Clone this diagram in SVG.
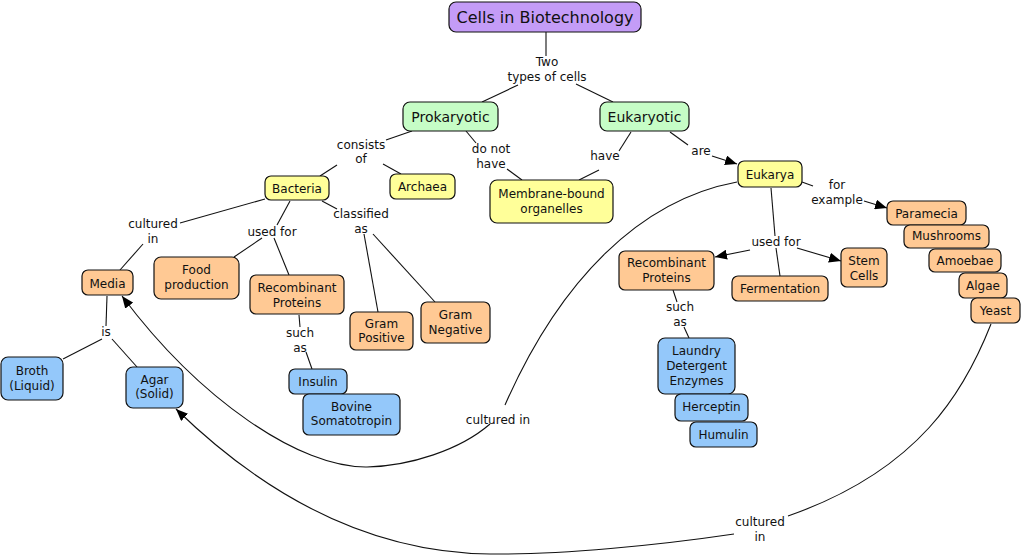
<svg xmlns="http://www.w3.org/2000/svg" width="1023" height="557" viewBox="0 0 1023 557">
<defs>
<style>
.n rect{stroke:#111;stroke-width:1.2}
.pu rect{fill:#C49CF7}
.gr rect{fill:#C6FDC6}
.ye rect{fill:#FFFF99}
.or rect{fill:#FFC994}
.bl rect{fill:#94C8FA}
text{font-family:"DejaVu Sans",Verdana,sans-serif;font-size:12px;fill:#111;text-anchor:middle}
.t16{font-size:16px}
.t14{font-size:14px}
#connectors path{fill:none;stroke:#111;stroke-width:1.1}
</style>
<marker id="ah" viewBox="0 0 12 10" refX="12" refY="5" markerWidth="12" markerHeight="10" markerUnits="userSpaceOnUse" orient="auto">
<path d="M0,0 L12,5 L0,10 Z" fill="#000"/>
</marker>
</defs>
<rect width="1023" height="557" fill="#fff"/>

<g id="connectors">
<path d="M546,32 L546,56"/>
<path d="M518,85 L482,102"/>
<path d="M576,84 L613,102"/>
<path d="M412,131 L386,140"/>
<path d="M337,165 L320,176"/>
<path d="M383,164 L401,174"/>
<path d="M466,131 L476,143"/>
<path d="M507,169 L522,180"/>
<path d="M631,132 L619,151"/>
<path d="M599,170 L579,180"/>
<path d="M670,132 L688,145"/>
<path d="M712,156 L737,164" marker-end="url(#ah)"/>
<path d="M802,182 L813,186"/>
<path d="M864,201 L887,208" marker-end="url(#ah)"/>
<path d="M771,188 L775,236"/>
<path d="M776,248 L780,276"/>
<path d="M750,250 L715,257" marker-end="url(#ah)"/>
<path d="M797,248 L841,261" marker-end="url(#ah)"/>
<path d="M673,290 L677,302"/>
<path d="M684,327 L689,338"/>
<path d="M991,324 C965,390 920,470 788,516"/>
<path d="M734,534 C660,545 560,555 490,554 C400,553 290,520 176,409" marker-end="url(#ah)"/>
<path d="M737,182 C640,200 560,280 505,405"/>
<path d="M490,424 C460,450 410,466 367,467 C300,468 200,400 122,296" marker-end="url(#ah)"/>
<path d="M265,199 L180,223"/>
<path d="M143,244 L120,270"/>
<path d="M290,201 L277,225"/>
<path d="M262,238 L234,257"/>
<path d="M274,238 L289,275"/>
<path d="M322,201 L337,209"/>
<path d="M364,234 L378,312"/>
<path d="M373,234 L435,302"/>
<path d="M299,315 L300,327"/>
<path d="M306,352 L312,369"/>
<path d="M107,296 L106,326"/>
<path d="M102,339 L63,359"/>
<path d="M112,339 L137,367"/>
<text x="547" y="66">Two</text>
<text x="547" y="80.5">types of cells</text>
<text x="361" y="148.5">consists</text>
<text x="361" y="162.5">of</text>
<text x="491" y="153">do not</text>
<text x="491" y="167.5">have</text>
<text x="605" y="160">have</text>
<text x="701" y="155">are</text>
<text x="837" y="189">for</text>
<text x="837" y="204">example</text>
<text x="776" y="246">used for</text>
<text x="680" y="311">such</text>
<text x="680" y="326">as</text>
<text x="760" y="526">cultured</text>
<text x="760" y="540.5">in</text>
<text x="498" y="423.5">cultured in</text>
<text x="153" y="227.5">cultured</text>
<text x="153" y="242.5">in</text>
<text x="272" y="235.5">used for</text>
<text x="361" y="218">classified</text>
<text x="361" y="233">as</text>
<text x="300" y="336.5">such</text>
<text x="300" y="351.5">as</text>
<text x="106" y="336">is</text>
</g>

<g id="cells-in-biotechnology" class="n pu"><rect x="449" y="2" width="192" height="30" rx="7"/><text class="t16" x="545" y="23">Cells in Biotechnology</text></g>
<g id="prokaryotic" class="n gr"><rect x="403" y="102" width="95" height="29" rx="7"/><text class="t14" x="450.5" y="121.5">Prokaryotic</text></g>
<g id="eukaryotic" class="n gr"><rect x="600" y="102" width="89" height="29" rx="7"/><text class="t14" x="644.5" y="121.5">Eukaryotic</text></g>
<g id="bacteria" class="n ye"><rect x="265" y="176" width="64" height="24" rx="6"/><text x="297" y="192.5">Bacteria</text></g>
<g id="archaea" class="n ye"><rect x="390" y="174" width="65" height="25" rx="6"/><text x="422.5" y="191">Archaea</text></g>
<g id="membrane-bound-organelles" class="n ye"><rect x="490" y="180" width="123" height="43" rx="7"/><text x="551.5" y="197.5">Membrane-bound</text><text x="551.5" y="212.5">organelles</text></g>
<g id="eukarya" class="n ye"><rect x="738" y="161" width="64" height="26" rx="6"/><text x="770" y="178.5">Eukarya</text></g>
<g id="paramecia" class="n or"><rect x="887" y="201" width="79" height="24" rx="6"/><text x="926.5" y="217.5">Paramecia</text></g>
<g id="mushrooms" class="n or"><rect x="904" y="225" width="85" height="23" rx="6"/><text x="946.5" y="240">Mushrooms</text></g>
<g id="amoebae" class="n or"><rect x="929" y="249" width="72" height="23" rx="6"/><text x="965" y="265">Amoebae</text></g>
<g id="algae" class="n or"><rect x="959" y="273" width="48" height="25" rx="6"/><text x="983" y="289.5">Algae</text></g>
<g id="yeast" class="n or"><rect x="971" y="298" width="49" height="25" rx="6"/><text x="995.5" y="315">Yeast</text></g>
<g id="stem-cells" class="n or"><rect x="841" y="248" width="46" height="39" rx="6"/><text x="864" y="265">Stem</text><text x="864" y="279.5">Cells</text></g>
<g id="recombinant-proteins-eukarya" class="n or"><rect x="619" y="251" width="95" height="39" rx="6"/><text x="666.5" y="267">Recombinant</text><text x="666.5" y="281.5">Proteins</text></g>
<g id="fermentation" class="n or"><rect x="732" y="276" width="96" height="25" rx="6"/><text x="780" y="292.5">Fermentation</text></g>
<g id="laundry-detergent-enzymes" class="n bl"><rect x="658" y="338" width="77" height="56" rx="7"/><text x="696.5" y="355">Laundry</text><text x="696.5" y="370">Detergent</text><text x="696.5" y="384.5">Enzymes</text></g>
<g id="herceptin" class="n bl"><rect x="675" y="394" width="73" height="27" rx="6"/><text x="711.5" y="411">Herceptin</text></g>
<g id="humulin" class="n bl"><rect x="690" y="422" width="67" height="25" rx="6"/><text x="723.5" y="438.5">Humulin</text></g>
<g id="media" class="n or"><rect x="82" y="270" width="51" height="25" rx="6"/><text x="107.5" y="287.5">Media</text></g>
<g id="food-production" class="n or"><rect x="154" y="257" width="85" height="42" rx="7"/><text x="196.5" y="274">Food</text><text x="196.5" y="289">production</text></g>
<g id="recombinant-proteins-bacteria" class="n or"><rect x="250" y="275" width="94" height="39" rx="6"/><text x="297" y="292">Recombinant</text><text x="297" y="306.5">Proteins</text></g>
<g id="gram-positive" class="n or"><rect x="350" y="312" width="63" height="38" rx="6"/><text x="381.5" y="327.5">Gram</text><text x="381.5" y="342">Positive</text></g>
<g id="gram-negative" class="n or"><rect x="421" y="302" width="69" height="41" rx="6"/><text x="455.5" y="319">Gram</text><text x="455.5" y="333.5">Negative</text></g>
<g id="broth-liquid" class="n bl"><rect x="1" y="357" width="62" height="43" rx="7"/><text x="32" y="375">Broth</text><text x="32" y="389.5">(Liquid)</text></g>
<g id="agar-solid" class="n bl"><rect x="126" y="367" width="57" height="41" rx="7"/><text x="154.5" y="383.5">Agar</text><text x="154.5" y="398">(Solid)</text></g>
<g id="insulin" class="n bl"><rect x="289" y="369" width="58" height="25" rx="6"/><text x="318" y="386">Insulin</text></g>
<g id="bovine-somatotropin" class="n bl"><rect x="303" y="394" width="97" height="41" rx="6"/><text x="351.5" y="410.5">Bovine</text><text x="351.5" y="425">Somatotropin</text></g>
</svg>
